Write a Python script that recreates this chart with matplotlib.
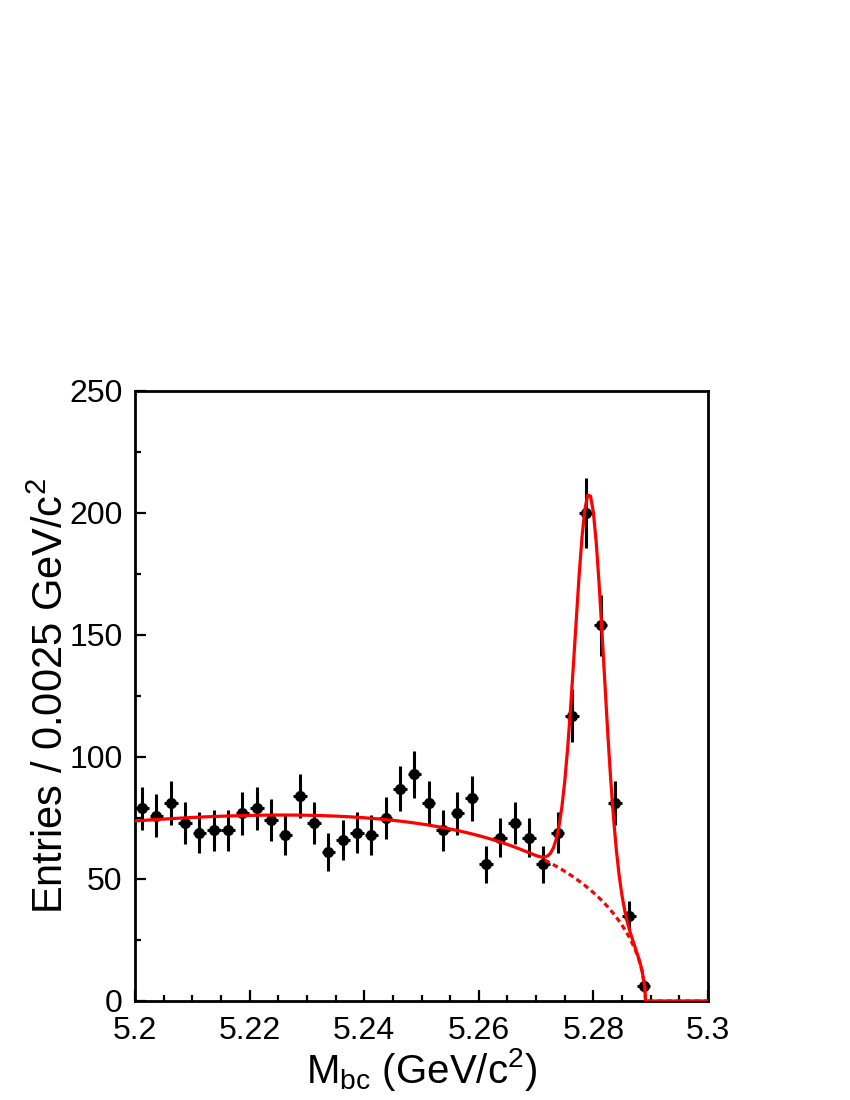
import numpy as np
import matplotlib
matplotlib.use("Agg")
import matplotlib.pyplot as plt
from matplotlib.ticker import MultipleLocator, FormatStrFormatter

plt.rcParams['font.family'] = ['Liberation Sans', 'DejaVu Sans']
plt.rcParams['mathtext.fontset'] = 'custom'
plt.rcParams['mathtext.rm'] = 'Liberation Sans'
plt.rcParams['mathtext.it'] = 'Liberation Sans'

# ---- data ----
bin_lo = 5.20
bin_width = 0.0025
counts = [79, 76, 81, 73, 69, 70, 70, 77, 79, 74,
          68, 84, 73, 61, 66, 69, 68, 75, 87, 93,
          81, 70, 77, 83, 56, 67, 73, 67, 56, 69,
          117, 200, 154, 81, 35, 6]

# ---- fit model parameters (ARGUS background + Gaussian signal) ----
argus_m0 = 5.2891
argus_c = -20.5
argus_norm = 154.0
sig_mean = 5.2793
sig_sigma = 0.0025
sig_amp = 162.0
dash_start = 5.2714
curve_step = 0.0005

x_ticks = [5.2, 5.22, 5.24, 5.26, 5.28, 5.3]
y_ticks = [0, 50, 100, 150, 200, 250]

counts = np.array(counts, dtype=float)
centers = bin_lo + bin_width * (np.arange(len(counts)) + 0.5)
yerr = np.sqrt(counts)


def argus(m):
    r = np.clip(1 - (m / argus_m0) ** 2, 0, None)
    return argus_norm * m * np.sqrt(r) * np.exp(argus_c * r)


def signal(m):
    return sig_amp * np.exp(-0.5 * ((m - sig_mean) / sig_sigma) ** 2)


fig = plt.figure(figsize=(8.5, 11), dpi=100)
ax = fig.add_axes([135 / 850, 1 - 1001 / 1100, (708 - 135) / 850, (1001 - 391) / 1100])

ax.errorbar(centers, counts, yerr=yerr, xerr=bin_width / 2 * 0.95, fmt='o',
            color='black', markersize=7, elinewidth=2.2, capsize=0, zorder=2)

m = np.unique(np.concatenate([np.arange(5.2, 5.3 + 1e-9, curve_step), [argus_m0]]))
tot = argus(m) + signal(m)
tot[m >= argus_m0] = 0.0
ax.plot(m, tot, color='#ff0000', lw=2.3, zorder=3, solid_joinstyle='round')
md = m[m >= dash_start]
ax.plot(md, argus(md), color='#ff0000', lw=2.3, ls=(0, (1.7, 1.2)), zorder=3)

ax.set_xlim(5.2, 5.3)
ax.set_ylim(0, 250)
ax.set_xticks(x_ticks)
ax.set_yticks(y_ticks)
ax.xaxis.set_major_formatter(FormatStrFormatter('%g'))
ax.xaxis.set_minor_locator(MultipleLocator(0.005))
ax.yaxis.set_minor_locator(MultipleLocator(25))
ax.tick_params(which='both', direction='in', top=False, right=False, width=1.6,
               labelsize=23)
ax.tick_params(axis='y', which='major', length=8, pad=9)
ax.tick_params(axis='x', which='major', length=8, pad=11)
ax.tick_params(which='minor', length=4)
for s in ax.spines.values():
    s.set_linewidth(2.0)

ax.set_xlabel(r'M$_{\mathregular{bc}}$ (GeV/c$^{\mathregular{2}}$)', fontsize=29, labelpad=0)
ax.set_ylabel(r'Entries / 0.0025 GeV/c$^{\mathregular{2}}$', fontsize=30, labelpad=-2)

fig.savefig('out.png', dpi=100)
